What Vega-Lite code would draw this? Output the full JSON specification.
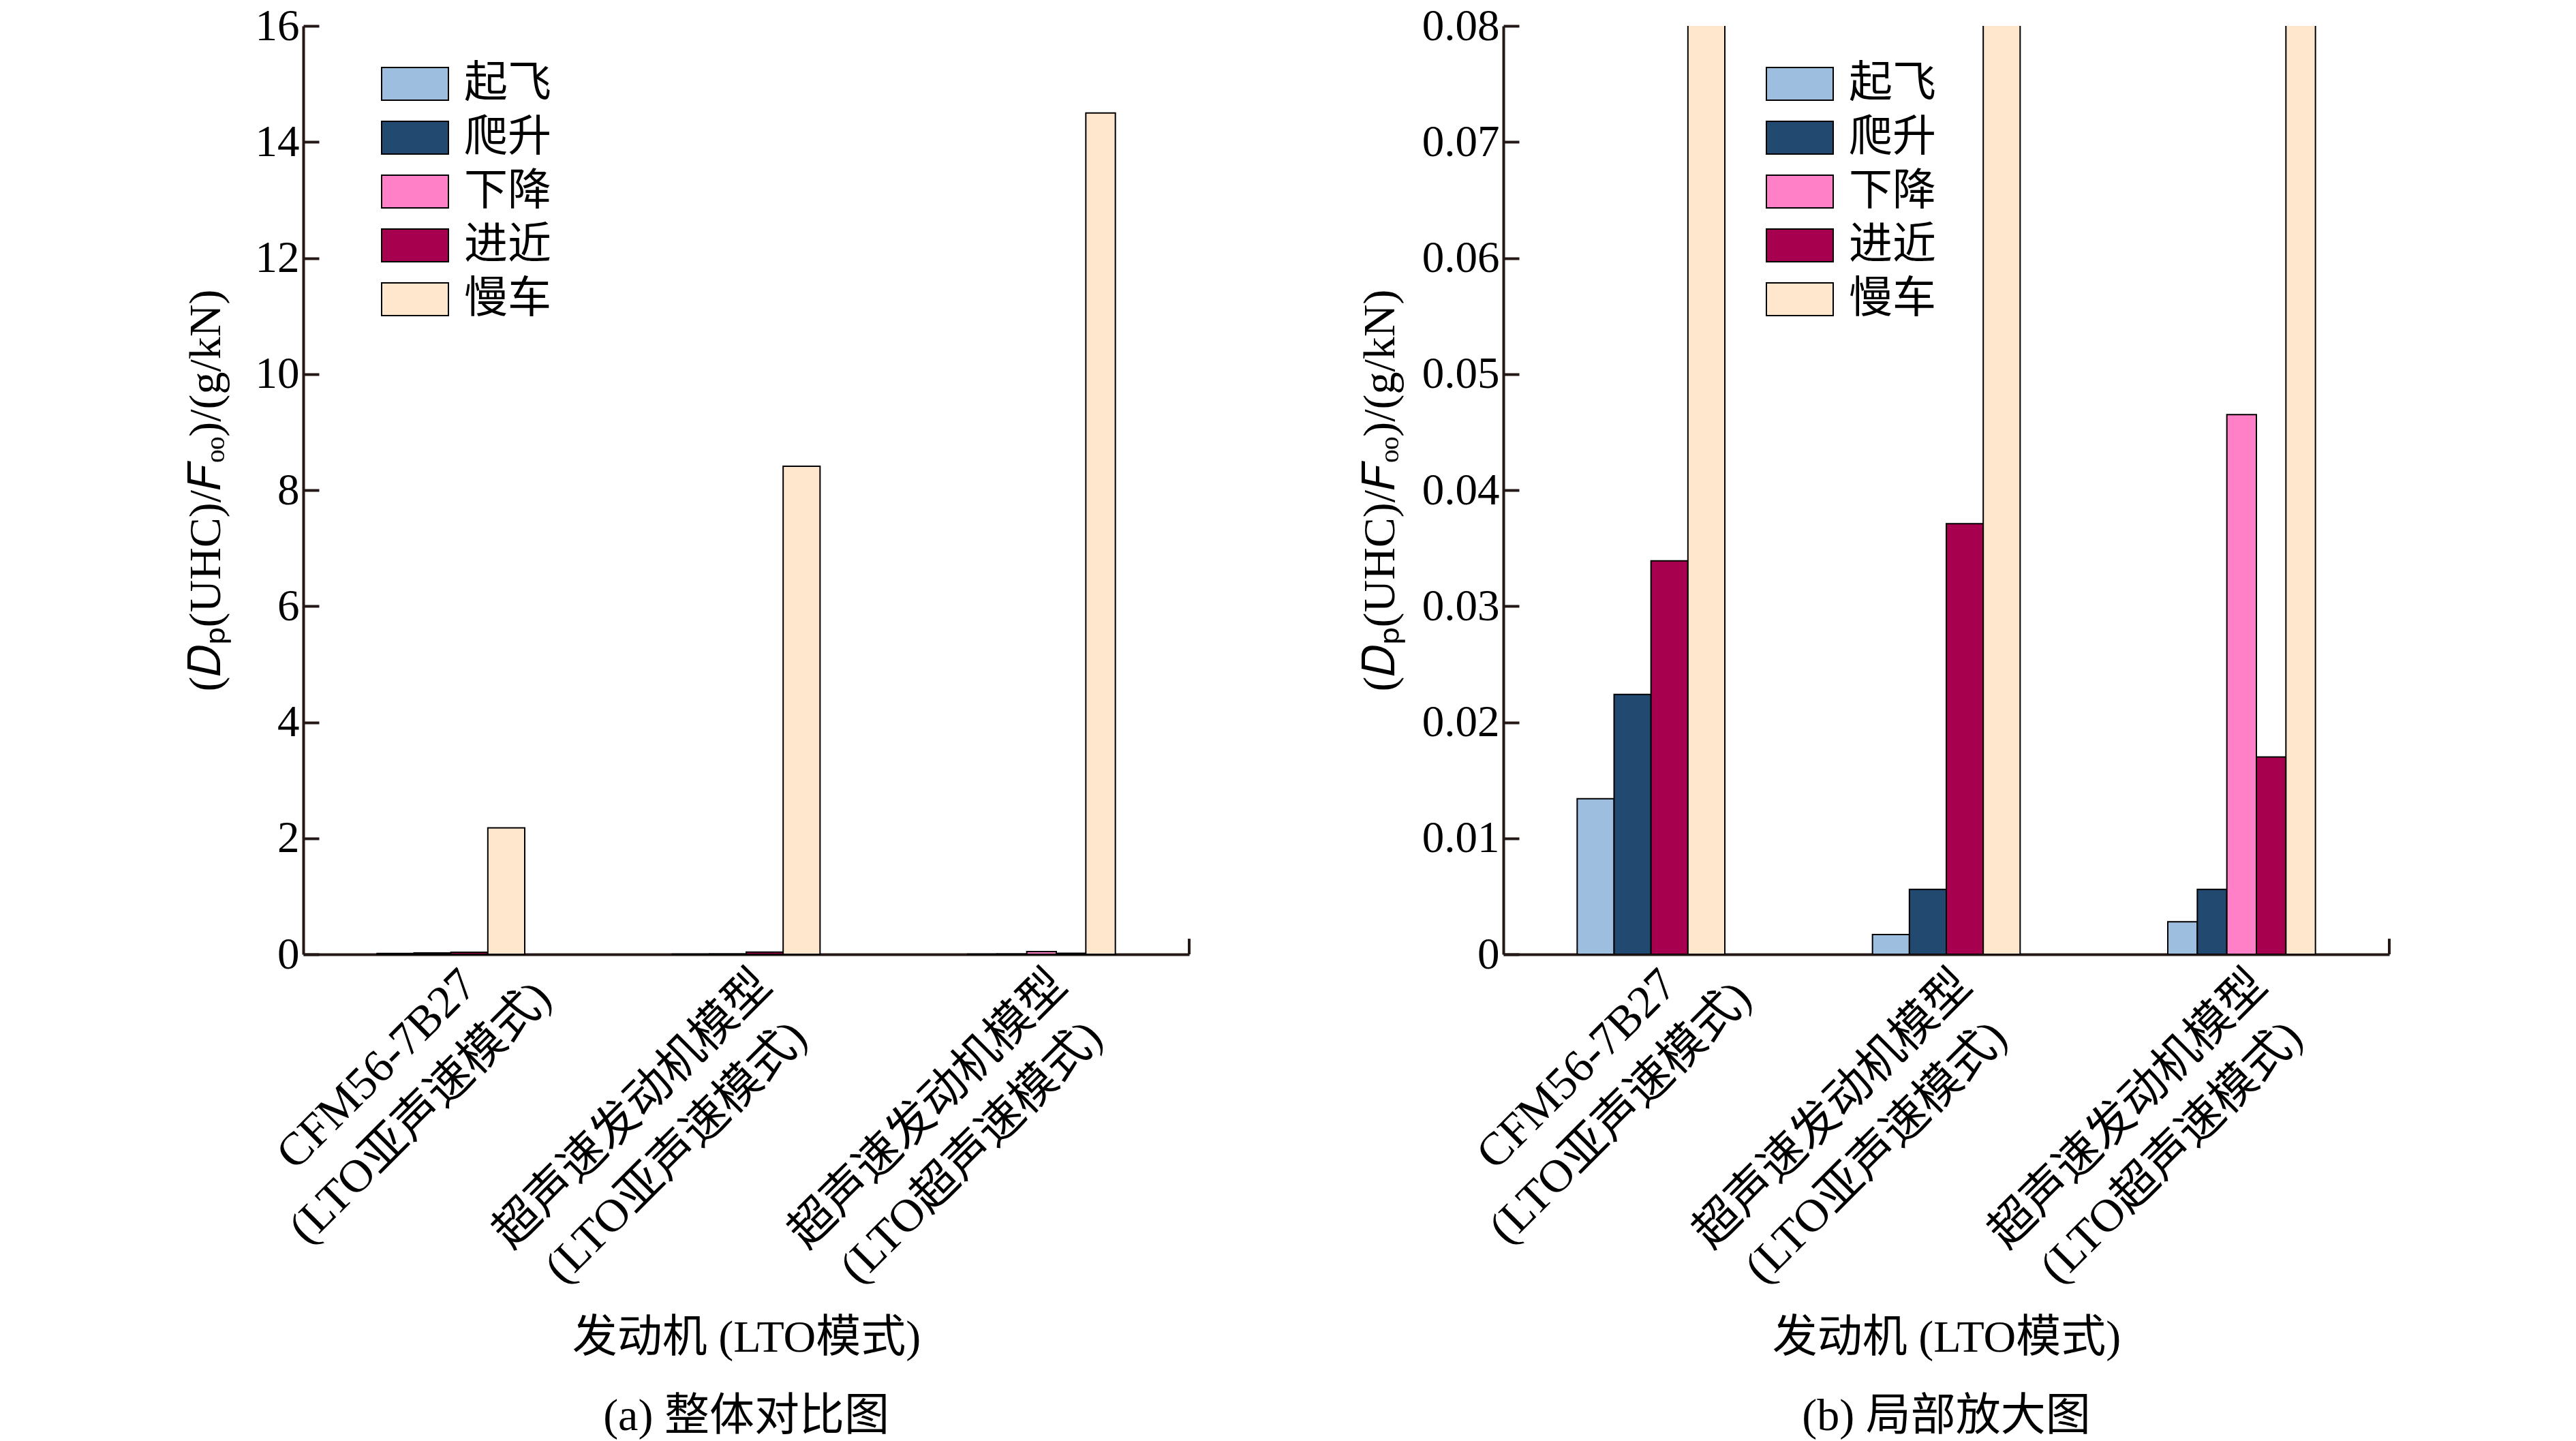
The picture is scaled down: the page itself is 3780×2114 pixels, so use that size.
{
  "$schema": "https://vega.github.io/schema/vega-lite/v6.json",
  "padding": {"left": 269, "top": 6, "right": 10, "bottom": 5},
  "background": "white",
  "datasets": {
    "uhc": [
      {"engine": "CFM56-7B27|(LTO亚声速模式)", "mode": "起飞", "value": 0.0134},
      {"engine": "CFM56-7B27|(LTO亚声速模式)", "mode": "爬升", "value": 0.0224},
      {"engine": "CFM56-7B27|(LTO亚声速模式)", "mode": "进近", "value": 0.0339},
      {"engine": "CFM56-7B27|(LTO亚声速模式)", "mode": "慢车", "value": 2.18},
      {"engine": "超声速发动机模型|(LTO亚声速模式)", "mode": "起飞", "value": 0.0017},
      {"engine": "超声速发动机模型|(LTO亚声速模式)", "mode": "爬升", "value": 0.0056},
      {"engine": "超声速发动机模型|(LTO亚声速模式)", "mode": "进近", "value": 0.0371},
      {"engine": "超声速发动机模型|(LTO亚声速模式)", "mode": "慢车", "value": 8.41},
      {"engine": "超声速发动机模型|(LTO超声速模式)", "mode": "起飞", "value": 0.0028},
      {"engine": "超声速发动机模型|(LTO超声速模式)", "mode": "爬升", "value": 0.0056},
      {"engine": "超声速发动机模型|(LTO超声速模式)", "mode": "下降", "value": 0.0465},
      {"engine": "超声速发动机模型|(LTO超声速模式)", "mode": "进近", "value": 0.017},
      {"engine": "超声速发动机模型|(LTO超声速模式)", "mode": "慢车", "value": 14.5}
    ]
  },
  "spacing": 461,
  "bounds": "flush",
  "resolve": {"legend": {"color": "independent"}, "scale": {"y": "independent"}},
  "hconcat": [
    {
      "width": 1300,
      "height": 1362,
      "title": {"text": "(a) 整体对比图", "orient": "bottom", "offset": 51},
      "data": {"name": "uhc"},
      "layer": [
        {
          "transform": [{"filter": {"field": "engine", "oneOf": ["CFM56-7B27|(LTO亚声速模式)", "超声速发动机模型|(LTO亚声速模式)"]}}],
          "mark": {"type": "bar", "stroke": "#000", "strokeWidth": 2},
          "encoding": {
            "x": {
              "field": "engine", "type": "nominal",
              "scale": {"domain": ["CFM56-7B27|(LTO亚声速模式)", "超声速发动机模型|(LTO亚声速模式)", "超声速发动机模型|(LTO超声速模式)"], "paddingInner": 0.5, "paddingOuter": 0.25},
              "axis": {"title": "发动机 (LTO模式)", "labelAngle": -45, "labelAlign": "center", "labelBaseline": "top", "labelExpr": "split(datum.label, '|')", "labelOffset": {"condition": {"test": "indexof(datum.value, 'CFM') < 0", "value": -190}, "value": -132}, "labelPadding": {"condition": {"test": "indexof(datum.value, 'CFM') < 0", "value": 203}, "value": 145}, "ticks": false, "labelLineHeight": 90, "labelFontSize": 68, "titlePadding": 330, "labelOverlap": false, "labelBound": false, "labelFlush": false, "labelLimit": 0}
            },
            "xOffset": {"field": "mode", "type": "nominal", "scale": {"domain": ["起飞", "爬升", "进近", "慢车"]}},
            "y": {
              "field": "value", "type": "quantitative",
              "scale": {"domain": [0, 16], "nice": false},
              "axis": {"title": "(𝐷ₚ(UHC)/𝐹ₒₒ)/(g/kN)", "values": [0, 2, 4, 6, 8, 10, 12, 14, 16], "titlePadding": 38}
            },
            "color": {
              "field": "mode", "type": "nominal",
              "scale": {"domain": ["起飞", "爬升", "下降", "进近", "慢车"], "range": ["#9ebee0", "#224a70", "#ff80c6", "#a7004f", "#ffe7cd"]},
              "legend": {"orient": "none", "legendX": 132, "legendY": 53}
            }
          }
        },
        {
          "transform": [{"filter": {"field": "engine", "equal": "超声速发动机模型|(LTO超声速模式)"}}],
          "mark": {"type": "bar", "stroke": "#000", "strokeWidth": 2},
          "encoding": {
            "x": {
              "field": "engine", "type": "nominal",
              "scale": {"domain": ["CFM56-7B27|(LTO亚声速模式)", "超声速发动机模型|(LTO亚声速模式)", "超声速发动机模型|(LTO超声速模式)"], "paddingInner": 0.5, "paddingOuter": 0.25},
              "axis": {"title": "发动机 (LTO模式)", "labelAngle": -45, "labelAlign": "center", "labelBaseline": "top", "labelExpr": "split(datum.label, '|')", "labelOffset": {"condition": {"test": "indexof(datum.value, 'CFM') < 0", "value": -190}, "value": -132}, "labelPadding": {"condition": {"test": "indexof(datum.value, 'CFM') < 0", "value": 203}, "value": 145}, "ticks": false, "labelLineHeight": 90, "labelFontSize": 68, "titlePadding": 330, "labelOverlap": false, "labelBound": false, "labelFlush": false, "labelLimit": 0}
            },
            "xOffset": {"field": "mode", "type": "nominal", "scale": {"domain": ["起飞", "爬升", "下降", "进近", "慢车"]}},
            "y": {
              "field": "value", "type": "quantitative",
              "scale": {"domain": [0, 16], "nice": false},
              "axis": {"title": "(𝐷ₚ(UHC)/𝐹ₒₒ)/(g/kN)", "values": [0, 2, 4, 6, 8, 10, 12, 14, 16], "titlePadding": 38}
            },
            "color": {"field": "mode", "type": "nominal"}
          }
        },
        {
          "mark": {"type": "rule", "color": "#231815", "strokeWidth": 4},
          "encoding": {
            "x": {"value": "width"},
            "y": {
              "datum": 0, "type": "quantitative",
              "axis": {"title": "(𝐷ₚ(UHC)/𝐹ₒₒ)/(g/kN)", "values": [0, 2, 4, 6, 8, 10, 12, 14, 16], "titlePadding": 38}
            },
            "y2": {"datum": 0.26}
          }
        }
      ],
      "resolve": {"scale": {"xOffset": "independent"}}
    },
    {
      "width": 1300,
      "height": 1362,
      "title": {"text": "(b) 局部放大图", "orient": "bottom", "offset": 51},
      "data": {"name": "uhc"},
      "layer": [
        {
          "transform": [{"filter": {"field": "engine", "oneOf": ["CFM56-7B27|(LTO亚声速模式)", "超声速发动机模型|(LTO亚声速模式)"]}}],
          "mark": {"type": "bar", "stroke": "#000", "strokeWidth": 2, "clip": true},
          "encoding": {
            "x": {
              "field": "engine", "type": "nominal",
              "scale": {"domain": ["CFM56-7B27|(LTO亚声速模式)", "超声速发动机模型|(LTO亚声速模式)", "超声速发动机模型|(LTO超声速模式)"], "paddingInner": 0.5, "paddingOuter": 0.25},
              "axis": {"title": "发动机 (LTO模式)", "labelAngle": -45, "labelAlign": "center", "labelBaseline": "top", "labelExpr": "split(datum.label, '|')", "labelOffset": {"condition": {"test": "indexof(datum.value, 'CFM') < 0", "value": -190}, "value": -132}, "labelPadding": {"condition": {"test": "indexof(datum.value, 'CFM') < 0", "value": 203}, "value": 145}, "ticks": false, "labelLineHeight": 90, "labelFontSize": 68, "titlePadding": 330, "labelOverlap": false, "labelBound": false, "labelFlush": false, "labelLimit": 0}
            },
            "xOffset": {"field": "mode", "type": "nominal", "scale": {"domain": ["起飞", "爬升", "进近", "慢车"]}},
            "y": {
              "field": "value", "type": "quantitative",
              "scale": {"domain": [0, 0.08], "nice": false},
              "axis": {"title": "(𝐷ₚ(UHC)/𝐹ₒₒ)/(g/kN)", "values": [0, 0.01, 0.02, 0.03, 0.04, 0.05, 0.06, 0.07, 0.08], "format": "~g", "titlePadding": 27}
            },
            "color": {
              "field": "mode", "type": "nominal",
              "scale": {"domain": ["起飞", "爬升", "下降", "进近", "慢车"], "range": ["#9ebee0", "#224a70", "#ff80c6", "#a7004f", "#ffe7cd"]},
              "legend": {"orient": "none", "legendX": 403, "legendY": 53}
            }
          }
        },
        {
          "transform": [{"filter": {"field": "engine", "equal": "超声速发动机模型|(LTO超声速模式)"}}],
          "mark": {"type": "bar", "stroke": "#000", "strokeWidth": 2, "clip": true},
          "encoding": {
            "x": {
              "field": "engine", "type": "nominal",
              "scale": {"domain": ["CFM56-7B27|(LTO亚声速模式)", "超声速发动机模型|(LTO亚声速模式)", "超声速发动机模型|(LTO超声速模式)"], "paddingInner": 0.5, "paddingOuter": 0.25},
              "axis": {"title": "发动机 (LTO模式)", "labelAngle": -45, "labelAlign": "center", "labelBaseline": "top", "labelExpr": "split(datum.label, '|')", "labelOffset": {"condition": {"test": "indexof(datum.value, 'CFM') < 0", "value": -190}, "value": -132}, "labelPadding": {"condition": {"test": "indexof(datum.value, 'CFM') < 0", "value": 203}, "value": 145}, "ticks": false, "labelLineHeight": 90, "labelFontSize": 68, "titlePadding": 330, "labelOverlap": false, "labelBound": false, "labelFlush": false, "labelLimit": 0}
            },
            "xOffset": {"field": "mode", "type": "nominal", "scale": {"domain": ["起飞", "爬升", "下降", "进近", "慢车"]}},
            "y": {
              "field": "value", "type": "quantitative",
              "scale": {"domain": [0, 0.08], "nice": false},
              "axis": {"title": "(𝐷ₚ(UHC)/𝐹ₒₒ)/(g/kN)", "values": [0, 0.01, 0.02, 0.03, 0.04, 0.05, 0.06, 0.07, 0.08], "format": "~g", "titlePadding": 27}
            },
            "color": {"field": "mode", "type": "nominal"}
          }
        },
        {
          "mark": {"type": "rule", "color": "#231815", "strokeWidth": 4},
          "encoding": {
            "x": {"value": "width"},
            "y": {
              "datum": 0, "type": "quantitative",
              "axis": {"title": "(𝐷ₚ(UHC)/𝐹ₒₒ)/(g/kN)", "values": [0, 0.01, 0.02, 0.03, 0.04, 0.05, 0.06, 0.07, 0.08], "format": "~g", "titlePadding": 27}
            },
            "y2": {"datum": 0.0013}
          }
        }
      ],
      "resolve": {"scale": {"xOffset": "independent"}}
    }
  ],
  "config": {
    "font": "Liberation Serif, Noto Sans CJK SC",
    "view": {"stroke": null},
    "title": {"fontSize": 66, "fontWeight": "normal", "color": "#000", "font": "Liberation Serif, Noto Sans CJK SC"},
    "axis": {
      "grid": false,
      "labelFont": "Liberation Serif, Noto Sans CJK SC",
      "titleFont": "Liberation Serif, Noto Sans CJK SC",
      "labelColor": "#000",
      "titleColor": "#000",
      "labelFontSize": 65,
      "titleFontSize": 66,
      "titleFontWeight": "normal",
      "domainColor": "#231815",
      "domainWidth": 4,
      "tickColor": "#231815",
      "tickWidth": 4
    },
    "axisY": {"tickSize": -23, "labelPadding": 29},
    "legend": {
      "title": null,
      "symbolType": "M-2,-0.98H2V0.98H-2Z",
      "symbolSize": 2401,
      "symbolStrokeColor": "#000",
      "symbolStrokeWidth": 2,
      "symbolOpacity": 1,
      "labelFont": "Liberation Serif, Noto Sans CJK SC",
      "labelFontSize": 64,
      "labelColor": "#000",
      "labelOffset": 40,
      "rowPadding": 15,
      "labelLimit": 0
    }
  }
}
